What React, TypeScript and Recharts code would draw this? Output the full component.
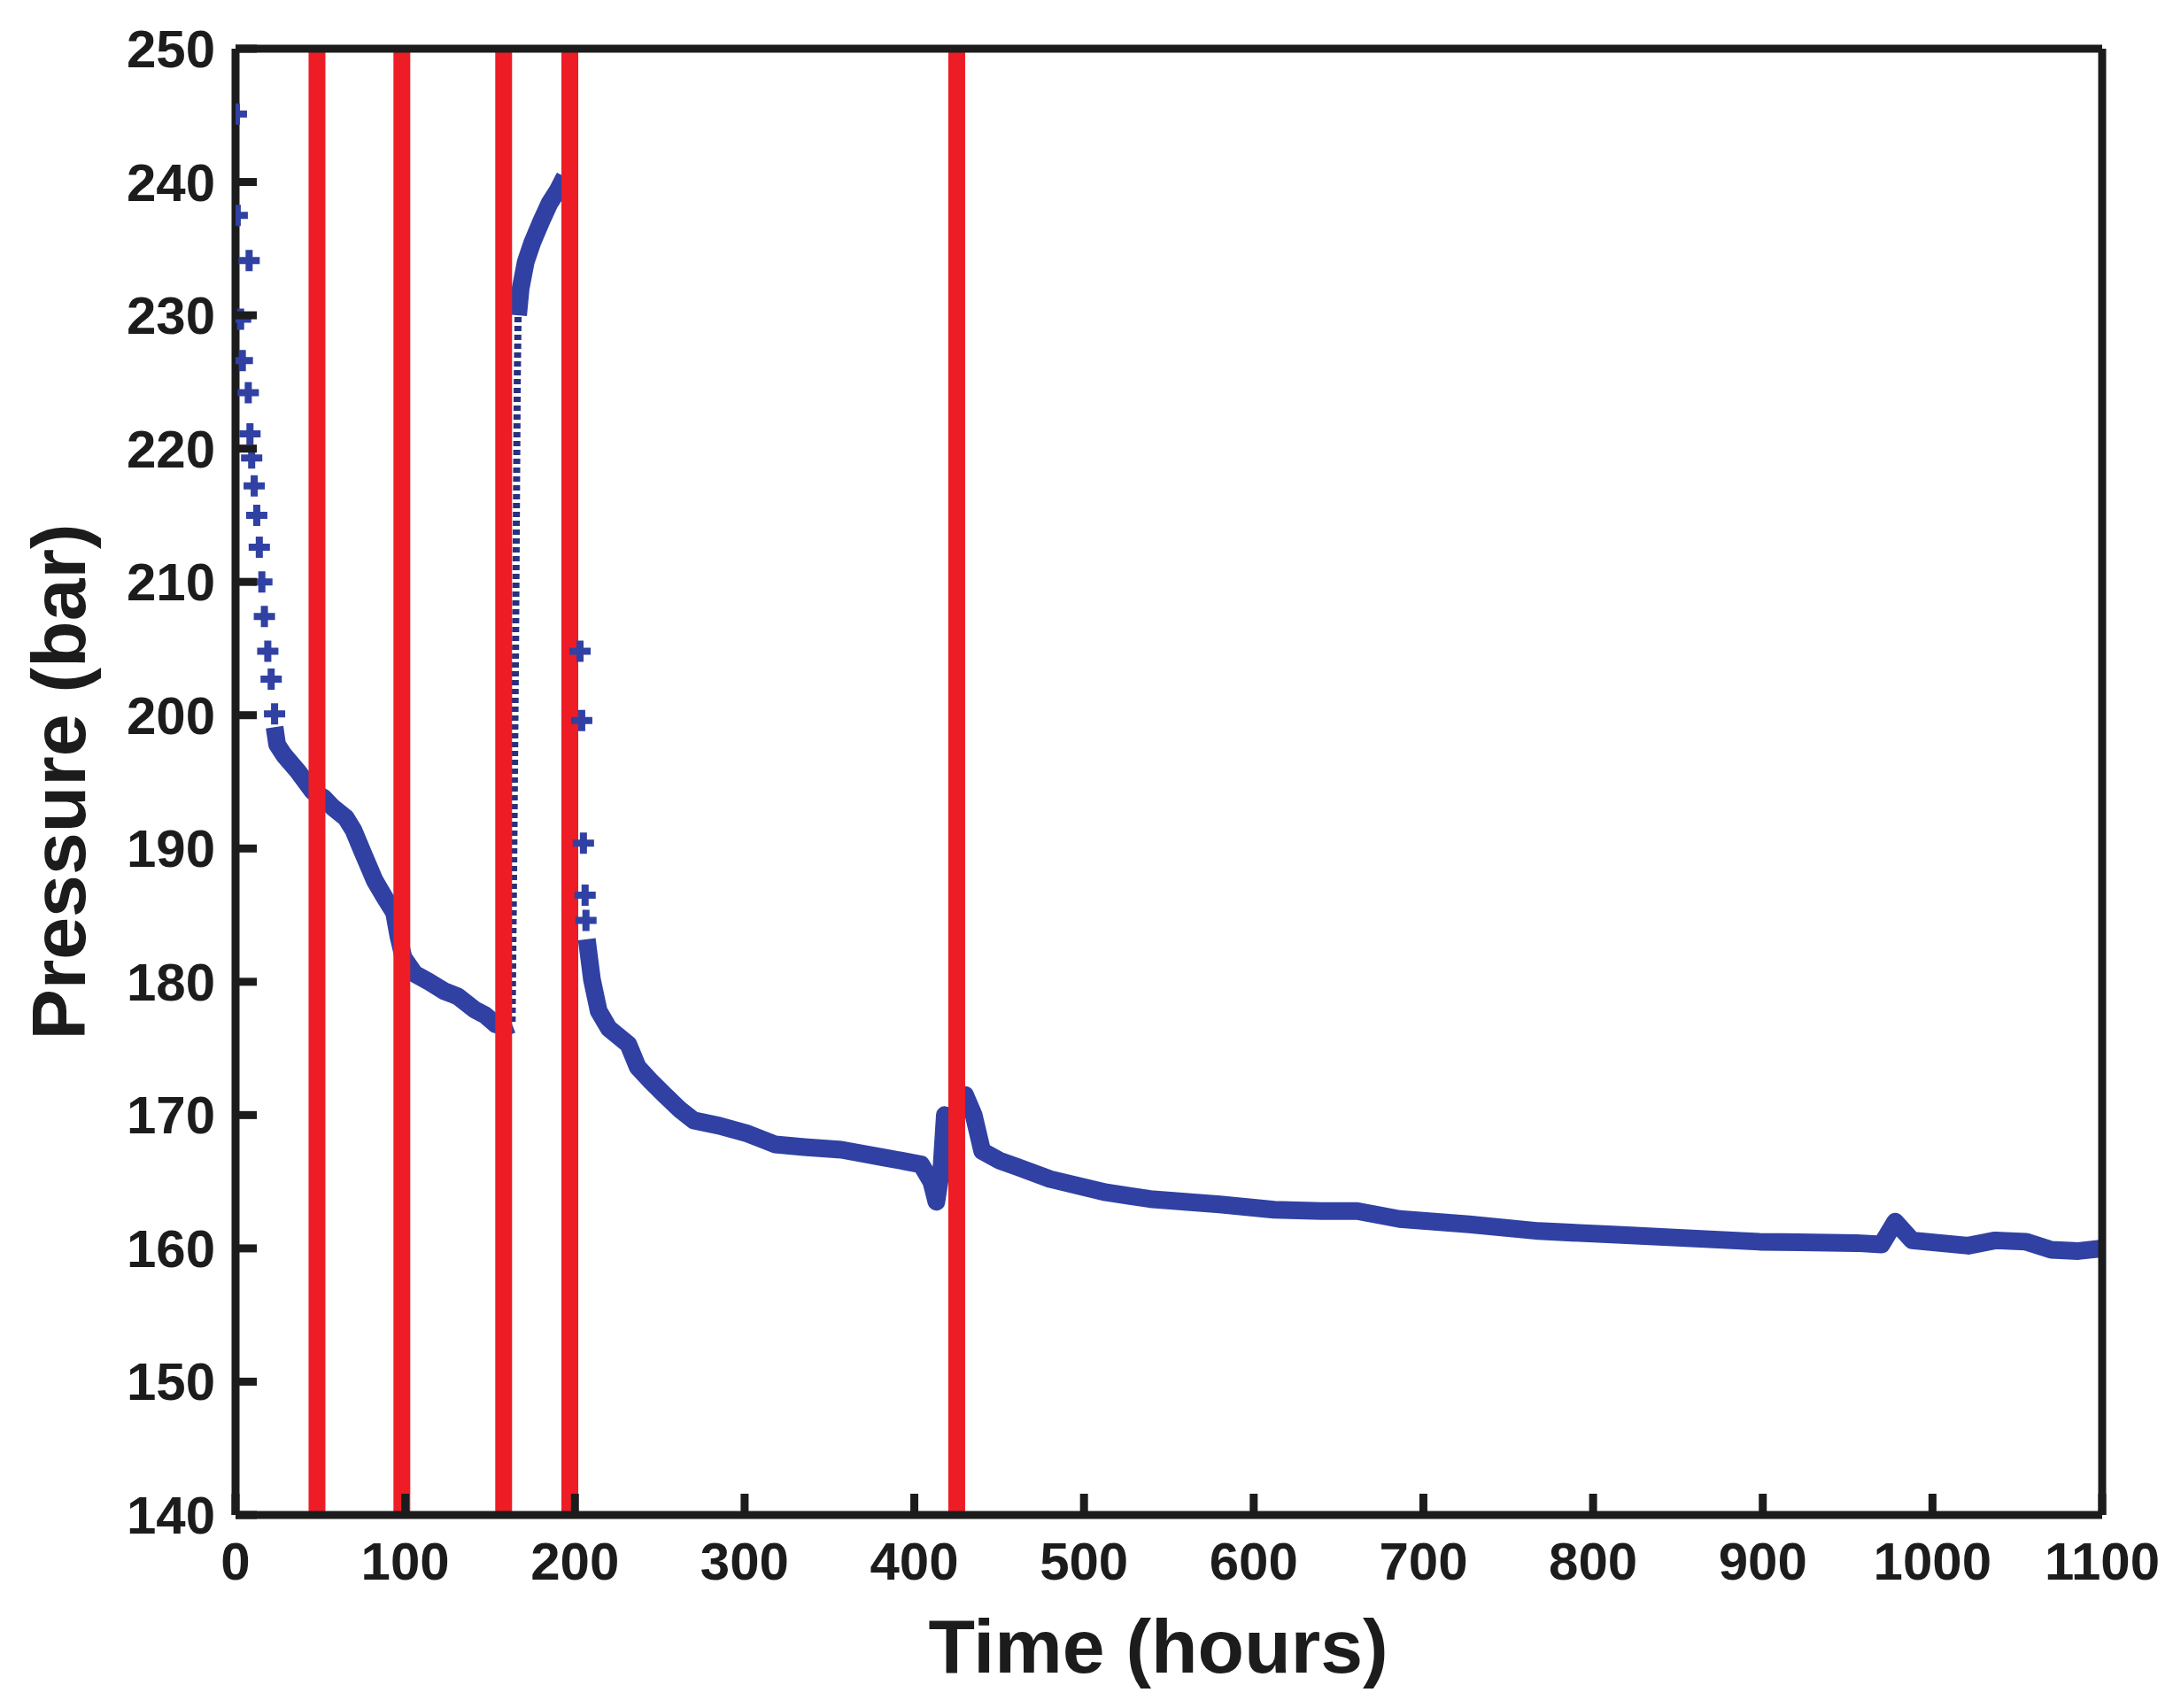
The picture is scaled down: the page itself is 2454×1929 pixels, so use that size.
import {
  ComposedChart, Line, Scatter, XAxis, YAxis, ReferenceLine, Label,
} from "recharts";

const BLUE = "#3041a3";
const RED = "#ee1c25";
const INK = "#1c1c1c";
const FONT = "'Liberation Sans', Arial, Helvetica, sans-serif";

const TIME_TICKS = [0, 100, 200, 300, 400, 500, 600, 700, 800, 900, 1000, 1100];
const PRESSURE_TICKS = [140, 150, 160, 170, 180, 190, 200, 210, 220, 230, 240, 250];

// times of the red event markers (hours)
const EVENT_TIMES = [48, 98, 158, 197, 425];

// sparse "+" samples at the start of the test
const START_POINTS = [
  [0.5, 245.1], [1, 237.5], [8, 234.1], [3, 229.7], [4, 226.6], [7.5, 224.2],
  [8.5, 221.1], [9.5, 219.3], [11, 217.2], [12.5, 215.0], [14, 212.6],
  [15.5, 210.0], [17, 207.4], [19, 204.8], [21, 202.7], [23, 200.1],
];

// dense band until the pressure build-up
const DECLINE_1 = [
  [23, 199.1], [24.5, 197.8], [28.6, 197.0], [36.7, 195.8], [45.4, 194.3],
  [52, 193.8], [57.2, 193.1], [65, 192.3], [69.4, 191.4], [75, 189.7],
  [82, 187.6], [88, 186.3], [93.4, 185.2], [96, 183.4], [99, 181.8],
  [105.5, 180.6], [114, 180.0], [123, 179.3], [131, 178.9], [141, 177.9],
  [147, 177.5], [153.5, 176.8], [159, 176.6], [163, 176.8],
];

// near-vertical build-up (thin dotted trace)
const BUILD_UP = [
  [163, 177], [164, 190], [165, 205], [165.5, 215], [166, 225], [166.5, 230],
];

const BUILD_UP_TOP = [
  [166.5, 230], [168, 232], [171, 234], [175, 235.5], [180, 237],
  [185, 238.4], [190, 239.4], [194, 240.4],
];

// sparse "+" samples right after the shut-in ends
const DROP_POINTS = [
  [203, 204.8], [204, 199.6], [205, 190.4], [206, 186.5], [206.5, 184.6],
];

const DECLINE_2 = [
  [207, 183.2], [210, 180.2], [214, 177.8], [220, 176.5], [231.5, 175.3],
  [237, 173.6], [245, 172.5], [253, 171.5], [262, 170.4], [270, 169.6],
  [285, 169.2], [302, 168.6], [318, 167.8], [335, 167.6], [357, 167.4],
  [383, 166.8], [404, 166.3], [410, 165.0], [413, 163.5], [416, 166.0],
  [418, 170.0], [421, 168.5], [426, 170.5], [430, 171.5], [435, 170.0],
  [440, 167.3], [450, 166.6], [461, 166.1], [480, 165.2], [513, 164.2],
  [539, 163.7], [580, 163.3], [612, 162.9], [640, 162.8], [661, 162.8],
  [686, 162.2], [727, 161.8], [768, 161.3], [817, 161.0], [866, 160.7],
  [898, 160.5], [955, 160.4], [970, 160.3], [978, 162.0], [988, 160.6],
  [1021, 160.2], [1037, 160.6], [1055, 160.5], [1070, 159.9], [1086, 159.8],
  [1100, 160.0],
];

const toRows = (pts: number[][]) => pts.map(([t, p]) => ({ t, p }));

const TICK_LEN = 24;
const TICK_W = 9;
const X_GAP = 30;
const Y_GAP = 23;

function Plus(props: any) {
  const { cx, cy } = props;
  if (cx == null || cy == null) return null;
  const s = 12;
  return (
    <path d={`M${cx - s},${cy}H${cx + s}M${cx},${cy - s}V${cy + s}`}
      stroke={BLUE} strokeWidth={8} fill="none" />
  );
}

// inward tick + label, bottom axis
function BottomTick(props: any) {
  const { x, y, payload } = props;
  const base = y - X_GAP;
  return (
    <g>
      <rect x={x - TICK_W / 2} y={base - TICK_LEN} width={TICK_W} height={TICK_LEN} fill={INK} />
      <text x={x} y={y} dy={43} textAnchor="middle" fill={INK} fontSize={60}
        fontWeight="bold" fontFamily={FONT}>{payload.value}</text>
    </g>
  );
}

function LeftTick(props: any) {
  const { x, y, payload } = props;
  const base = x + Y_GAP;
  return (
    <g>
      <rect x={base} y={y - TICK_W / 2} width={TICK_LEN} height={TICK_W} fill={INK} />
      <text x={x} y={y} dy={21} textAnchor="end" fill={INK} fontSize={60}
        fontWeight="bold" fontFamily={FONT}>{payload.value}</text>
    </g>
  );
}

function TopTick(props: any) {
  const { x, y } = props;
  return <rect x={x - TICK_W / 2} y={y} width={TICK_W} height={TICK_LEN} fill={INK} />;
}

function RightTick(props: any) {
  const { x, y } = props;
  return <rect x={x - TICK_LEN} y={y - TICK_W / 2} width={TICK_LEN} height={TICK_W} fill={INK} />;
}

function XTitle(props: any) {
  const vb = props.viewBox;
  return (
    <text x={vb.x + vb.width / 2 - 12} y={vb.y + 178} textAnchor="middle"
      fontFamily={FONT} fontWeight="bold" fontSize={86} fill={INK}>Time (hours)</text>
  );
}

function YTitle(props: any) {
  const vb = props.viewBox;
  const cx = vb.x + 58;
  const cy = vb.y + vb.height / 2;
  return (
    <text x={cx} y={cy} transform={`rotate(-90 ${cx} ${cy})`} textAnchor="middle"
      dominantBaseline="central" fontFamily={FONT} fontWeight="bold" fontSize={86} fill={INK}>
      Pressure (bar)
    </text>
  );
}

const axisLine = { stroke: INK, strokeWidth: 9 };

export default function App() {
  return (
    <div style={{ width: 2438, height: 1913, background: "#fff" }}>
      <ComposedChart width={2438} height={1913} margin={{ top: 0, right: 0, bottom: 0, left: 0 }}>
        <XAxis xAxisId="bottom" type="number" dataKey="t" domain={[0, 1100]} ticks={TIME_TICKS}
          interval={0} height={210} tickSize={0} tickMargin={X_GAP} tick={<BottomTick />}
          axisLine={axisLine} tickLine={false} allowDataOverflow>
          <Label content={<XTitle />} />
        </XAxis>
        <XAxis xAxisId="top" orientation="top" type="number" dataKey="t" domain={[0, 1100]}
          ticks={TIME_TICKS} interval={0} height={47} tickSize={0} tickMargin={0} tick={<TopTick />}
          axisLine={axisLine} tickLine={false} />
        <YAxis yAxisId="left" type="number" domain={[140, 250]} ticks={PRESSURE_TICKS}
          interval={0} width={258} tickSize={0} tickMargin={Y_GAP} tick={<LeftTick />}
          axisLine={axisLine} tickLine={false} allowDataOverflow>
          <Label content={<YTitle />} />
        </YAxis>
        <YAxis yAxisId="right" orientation="right" type="number" domain={[140, 250]}
          ticks={PRESSURE_TICKS} interval={0} width={72} tickSize={0} tickMargin={0} tick={<RightTick />}
          axisLine={axisLine} tickLine={false} />

        <Line xAxisId="bottom" yAxisId="left" data={toRows(DECLINE_1)} dataKey="p" type="linear"
          stroke={BLUE} strokeWidth={20} strokeLinejoin="round" dot={false} isAnimationActive={false} />
        <Line xAxisId="bottom" yAxisId="left" data={toRows(BUILD_UP)} dataKey="p" type="linear"
          stroke="#26317f" strokeWidth={8} strokeDasharray="6 4" dot={false} isAnimationActive={false} />
        <Line xAxisId="bottom" yAxisId="left" data={toRows(BUILD_UP_TOP)} dataKey="p" type="linear"
          stroke={BLUE} strokeWidth={20} strokeLinejoin="round" dot={false} isAnimationActive={false} />
        <Line xAxisId="bottom" yAxisId="left" data={toRows(DECLINE_2)} dataKey="p" type="linear"
          stroke={BLUE} strokeWidth={20} strokeLinejoin="round" dot={false} isAnimationActive={false} />
        <Scatter xAxisId="bottom" yAxisId="left" data={toRows(START_POINTS)} dataKey="p"
          shape={<Plus />} isAnimationActive={false} />
        <Scatter xAxisId="bottom" yAxisId="left" data={toRows(DROP_POINTS)} dataKey="p"
          shape={<Plus />} isAnimationActive={false} />

        {EVENT_TIMES.map((t) => (
          <ReferenceLine key={t} xAxisId="bottom" yAxisId="left" x={t} stroke={RED} strokeWidth={19} />
        ))}
      </ComposedChart>
    </div>
  );
}
